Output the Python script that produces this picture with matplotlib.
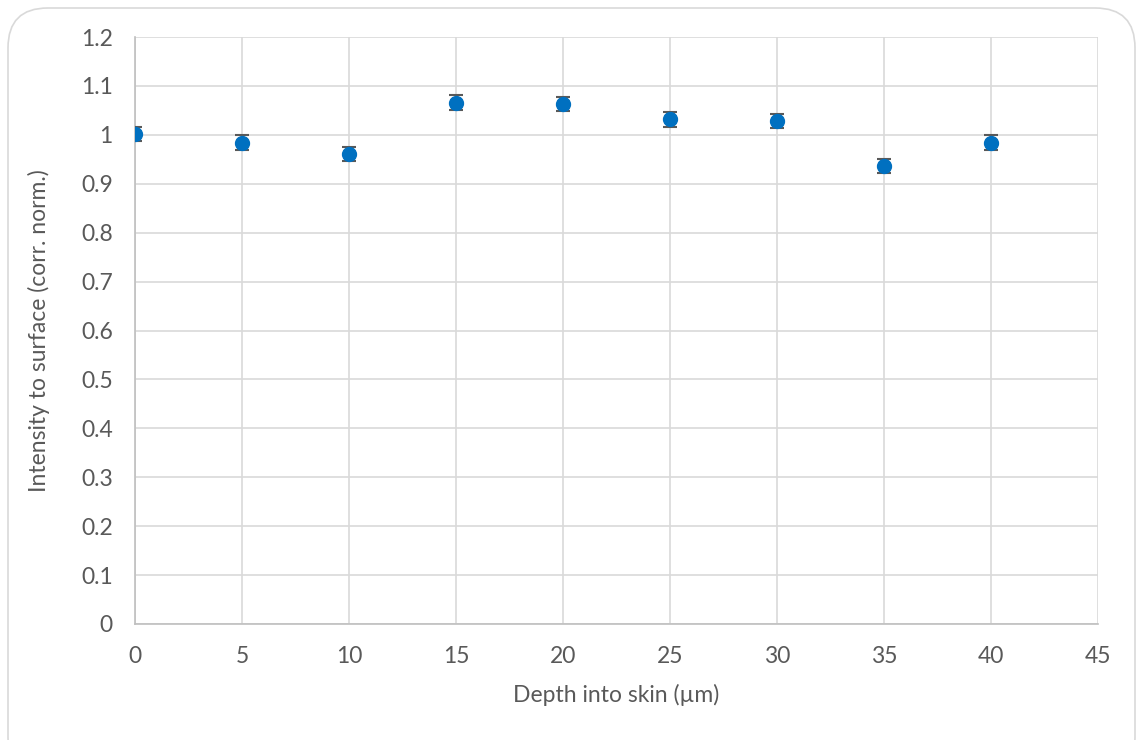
import matplotlib.pyplot as plt
from matplotlib.patches import FancyBboxPatch

plt.rcParams['font.family'] = ['Lato', 'DejaVu Sans']

depth = [0, 5, 10, 15, 20, 25, 30, 35, 40]
intensity = [1.001, 0.984, 0.961, 1.066, 1.063, 1.032, 1.028, 0.936, 0.984]
err = [0.014, 0.015, 0.015, 0.015, 0.015, 0.015, 0.015, 0.015, 0.015]

xticks = list(range(0, 50, 5))
yticks = [i / 10 for i in range(0, 13)]
yticklabels = ['0', '0.1', '0.2', '0.3', '0.4', '0.5', '0.6', '0.7', '0.8',
               '0.9', '1', '1.1', '1.2']

txt = '#595959'
fig = plt.figure(figsize=(11.38, 7.4), dpi=100)
# rounded chart-area border, cut off at the bottom like the original
top = 1 - 8 / 740
border = FancyBboxPatch((8 / 1138, -0.05), 1127 / 1138, top + 0.05,
                        boxstyle='round,pad=0,rounding_size=0.035',
                        transform=fig.transFigure, fc='white',
                        ec='#D9D9D9', lw=1.2, mutation_aspect=1138 / 740, zorder=-5)
fig.patches.append(border)

ax = fig.add_axes([135 / 1138, 1 - 624 / 740, 963 / 1138, 587 / 740])
ax.set_facecolor('none')
ax.errorbar(depth, intensity, yerr=err, fmt='o', color='#0070C0', ms=10,
            ecolor='#595959', elinewidth=1.3, capsize=5, capthick=1.5, zorder=3)

ax.set_xlim(0, 45)
ax.set_ylim(0, 1.2)
ax.set_xticks(xticks)
ax.set_yticks(yticks)
ax.set_yticklabels(yticklabels)
ax.grid(color='#D9D9D9', lw=1.2)
ax.set_axisbelow(True)
for s in ['top', 'right']:
    ax.spines[s].set_visible(False)
for s in ['left', 'bottom']:
    ax.spines[s].set_color('#BFBFBF')
    ax.spines[s].set_linewidth(1.2)
ax.tick_params(length=0, labelsize=16.5, colors=txt)
ax.tick_params(axis='y', pad=16)
ax.tick_params(axis='x', pad=16)
ax.set_xlabel('Depth into skin (µm)', fontsize=16.5, color=txt, labelpad=12)
ax.set_ylabel('Intensity to surface (corr. norm.)', fontsize=16.5, color=txt, labelpad=22)

fig.savefig('out.png')
